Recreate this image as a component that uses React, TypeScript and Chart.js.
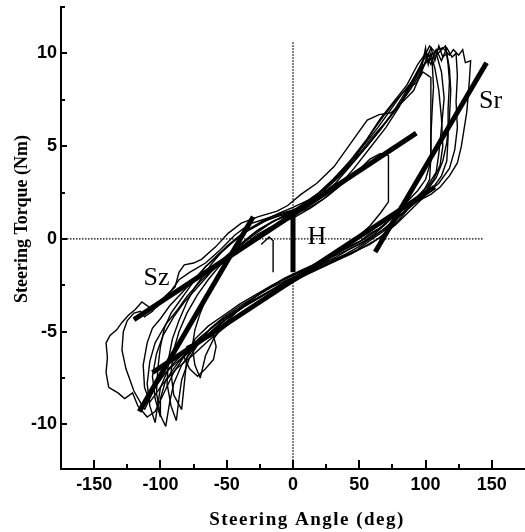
import React, { useEffect, useRef } from 'react';
import { Chart, registerables } from 'chart.js';
Chart.register(...registerables);

type P = [number, number];

// Hysteresis loops (steering angle deg, steering torque Nm)
const loop1: P[] = [
  [-139, -8.0], [-141, -7.2], [-140, -6.4], [-141, -5.6], [-138, -5.2], [-133, -4.9], [-129, -4.5],
  [-124, -4.1], [-119, -3.8], [-114, -3.4], [-108, -3.7], [-103, -3.7], [-96, -3.1], [-89, -2.6],
  [-86, -1.8], [-82, -1.4], [-75, -1.3], [-69, -1.1], [-58, -0.4], [-49, 0.3], [-39, 0.85],
  [-26, 1.2], [-12, 1.5], [-4, 1.8], [6, 2.4], [18, 3.0], [31, 3.9], [44, 5.2], [56, 6.4],
  [65, 6.7], [74, 6.8], [83, 7.4], [91, 8.0], [97, 9.0], [101, 9.8], [106, 10.0], [109, 10.2],
  [113, 10.3], [118, 9.9], [121, 10.2], [125, 9.9], [128, 10.2], [130, 9.5], [134, 9.6],
  [133, 8.5], [132, 7.6], [131, 6.8], [129, 5.9], [127, 5.0], [124, 4.1], [118, 3.4], [111, 2.8],
  [104, 2.4], [96, 2.1], [88, 1.8], [80, 1.5], [74, 1.1], [66, 0.6], [58, 0.3], [51, -0.1],
  [42, -0.4], [30, -0.9], [19, -1.5], [8, -2.0], [-5, -2.4], [-17, -2.8], [-30, -3.3],
  [-44, -3.9], [-56, -4.5], [-68, -5.2], [-80, -6.1], [-90, -7.2], [-98, -8.4], [-104, -9.3],
  [-110, -9.6], [-117, -9.0], [-121, -8.3], [-127, -8.6], [-132, -8.3], [-139, -8.0],
];

const loop2: P[] = [
  [-112, -9.2], [-120, -8.2], [-126, -7.0], [-129, -6.0], [-128, -5.0], [-125, -4.4], [-120, -4.0],
  [-115, -3.9], [-112, -4.2], [-106, -3.9], [-98, -3.2], [-92, -2.8], [-86, -2.2], [-78, -1.8],
  [-66, -1.3], [-55, -0.6], [-44, 0.2], [-33, 0.8], [-20, 1.1], [-8, 1.4], [2, 1.6], [14, 2.2],
  [26, 2.8], [38, 3.7], [50, 4.6], [60, 5.5], [70, 6.3], [80, 7.2], [88, 8.0], [95, 8.8],
  [100, 9.5], [104, 10.3], [107, 9.6], [110, 10.4], [113, 9.8], [116, 10.0], [118, 9.2],
  [119, 8.0], [118, 6.5], [116, 5.2], [113, 4.2], [108, 3.3], [102, 2.7], [94, 2.2], [86, 1.6],
  [76, 0.9], [68, 0.4], [58, -0.1], [48, -0.6], [36, -1.0], [24, -1.4], [12, -1.8], [0, -2.2],
  [-12, -2.6], [-24, -3.1], [-36, -3.6], [-48, -4.2], [-60, -4.9], [-72, -5.6], [-84, -6.4],
  [-96, -7.2], [-104, -8.0], [-112, -9.2],
];

const loop3: P[] = [
  [-96, -10.1], [-100, -9.5], [-103, -8.3], [-102, -7.0], [-100, -5.8], [-97, -4.8], [-92, -4.0],
  [-86, -3.4], [-80, -2.8], [-74, -2.2], [-66, -1.5], [-58, -1.0], [-50, -0.4], [-40, 0.2],
  [-30, 0.6], [-20, 1.0], [-10, 1.3], [0, 1.5], [10, 1.9], [22, 2.5], [34, 3.3], [46, 4.2],
  [58, 5.2], [68, 6.1], [78, 7.0], [86, 7.9], [92, 8.6], [97, 9.2], [100, 10.3], [102, 9.4],
  [104, 10.0], [107, 9.2], [110, 8.0], [112, 6.5], [113, 5.0], [111, 4.0], [106, 3.2], [100, 2.6],
  [92, 2.0], [84, 1.5], [76, 1.0], [68, 0.5], [60, 0.1], [50, -0.4], [40, -0.8], [28, -1.2],
  [16, -1.6], [4, -2.0], [-8, -2.4], [-20, -2.9], [-32, -3.4], [-44, -4.0], [-56, -4.6],
  [-66, -5.3], [-76, -6.0], [-84, -6.8], [-90, -7.8], [-93, -8.8], [-96, -10.1],
];

const loop4: P[] = [
  [-88, -9.8], [-92, -9.0], [-95, -7.8], [-94, -6.5], [-91, -5.4], [-86, -4.4], [-80, -3.4],
  [-74, -2.6], [-68, -2.0], [-62, -1.4], [-55, -0.8], [-46, -0.2], [-36, 0.4], [-24, 0.9],
  [-12, 1.2], [-2, 1.4], [8, 1.7], [20, 2.3], [32, 3.0], [44, 4.0], [56, 5.0], [66, 5.9],
  [76, 6.9], [84, 7.8], [92, 8.8], [98, 9.6], [102, 10.0], [105, 9.5], [106, 8.2], [105, 7.0],
  [104, 5.5], [104, 4.2], [100, 3.2], [94, 2.6], [86, 2.0], [78, 1.4], [70, 0.8], [62, 0.3],
  [54, -0.1], [44, -0.5], [32, -1.0], [20, -1.4], [8, -1.8], [-4, -2.2], [-16, -2.6], [-28, -3.1],
  [-40, -3.6], [-52, -4.2], [-62, -4.8], [-70, -5.5], [-78, -6.4], [-84, -7.6], [-86, -8.6],
  [-88, -9.8],
];

const loop5: P[] = [
  [-70, -7.5], [-74, -6.8], [-76, -5.8], [-74, -4.9], [-70, -4.0], [-65, -3.1], [-60, -2.4],
  [-54, -1.6], [-47, -1.0], [-38, -0.4], [-28, 0.2], [-18, 0.6], [-8, 0.9], [2, 1.2], [14, 1.7],
  [26, 2.3], [38, 3.0], [48, 3.6], [58, 4.3], [66, 4.6], [72, 4.5], [72, 3.2], [72, 2.0],
  [66, 1.4], [58, 0.7], [50, 0.2], [40, -0.3], [30, -0.8], [18, -1.3], [6, -1.7], [-6, -2.1],
  [-18, -2.6], [-30, -3.2], [-42, -3.9], [-52, -4.6], [-60, -5.4], [-66, -6.3], [-70, -7.5],
];

const loop6: P[] = [
  [-108, -8.8], [-112, -8.0], [-113, -6.8], [-110, -5.6], [-106, -4.8], [-100, -4.3], [-93, -3.6],
  [-85, -3.0], [-76, -2.3], [-66, -1.5], [-56, -0.8], [-46, -0.2], [-34, 0.5], [-22, 1.0],
  [-10, 1.4], [0, 1.7], [12, 2.1], [24, 2.7], [36, 3.5], [48, 4.5], [58, 5.6], [68, 6.6],
  [78, 7.5], [86, 8.1], [93, 8.4], [98, 9.0], [102, 8.8], [104, 8.7], [104, 7.2], [104, 5.8],
  [104, 4.4], [103, 3.2], [98, 2.5], [90, 1.9], [82, 1.2], [74, 0.6], [64, 0.0], [54, -0.4],
  [44, -0.8], [32, -1.2], [20, -1.6], [8, -2.0], [-4, -2.5], [-16, -3.0], [-28, -3.5], [-40, -4.1],
  [-52, -4.8], [-64, -5.5], [-76, -6.3], [-88, -7.0], [-98, -7.8], [-108, -8.8],
];

const loop7: P[] = [
  [-100, -9.6], [-104, -8.6], [-106, -7.4], [-103, -6.2], [-98, -5.2], [-90, -4.2], [-82, -3.4],
  [-72, -2.6], [-62, -1.8], [-52, -1.1], [-42, -0.5], [-30, 0.2], [-18, 0.8], [-6, 1.3], [6, 1.8],
  [18, 2.4], [30, 3.2], [42, 4.1], [54, 5.1], [64, 6.0], [74, 7.0], [82, 7.8], [90, 8.5],
  [96, 9.2], [102, 9.6], [108, 9.9], [112, 10.2], [115, 10.4], [117, 9.4], [118, 8.5], [117, 7.0],
  [117, 5.5], [116, 4.2], [112, 3.4], [106, 2.8], [98, 2.2], [88, 1.5], [78, 0.8], [68, 0.2],
  [58, -0.3], [46, -0.7], [34, -1.1], [22, -1.5], [10, -1.9], [-2, -2.3], [-14, -2.7], [-26, -3.2],
  [-38, -3.7], [-50, -4.3], [-62, -5.0], [-74, -5.8], [-86, -6.6], [-96, -7.6], [-100, -8.6],
  [-100, -9.6],
];

const loop8: P[] = [
  [-60, -6.5], [-66, -7.0], [-72, -7.4], [-78, -7.0], [-82, -6.4], [-80, -5.8], [-74, -5.6],
  [-66, -5.4], [-60, -5.2], [-58, -5.8], [-60, -6.5],
];

const loop9: P[] = [
  [-84, -9.2], [-90, -8.4], [-92, -7.2], [-90, -6.0], [-86, -5.0], [-80, -4.0], [-72, -3.0],
  [-64, -2.2], [-56, -1.5], [-48, -0.9], [-38, -0.2], [-26, 0.5], [-14, 1.0], [-2, 1.3], [10, 1.6],
  [22, 2.1], [34, 2.8], [46, 3.8], [58, 4.9], [70, 6.0], [80, 7.1], [88, 8.2], [94, 9.0],
  [99, 9.8], [103, 10.4], [108, 10.0], [112, 9.0], [114, 7.6], [112, 6.0], [110, 4.6], [108, 3.6],
  [102, 2.9], [94, 2.3], [84, 1.7], [74, 1.1], [64, 0.5], [54, 0.0], [44, -0.4], [32, -0.8],
  [20, -1.3], [8, -1.7], [-4, -2.1], [-16, -2.5], [-28, -3.0], [-40, -3.5], [-52, -4.1],
  [-64, -4.7], [-74, -5.4], [-80, -6.4], [-82, -7.8], [-84, -9.2],
];

const loop10: P[] = [
  [-104, -9.9], [-108, -9.0], [-110, -7.8], [-108, -6.6], [-104, -5.6], [-96, -4.6], [-88, -3.9],
  [-80, -3.1], [-70, -2.3], [-60, -1.6], [-50, -0.9], [-40, -0.3], [-28, 0.4], [-16, 0.9],
  [-4, 1.3], [8, 1.8], [20, 2.5], [32, 3.3], [44, 4.3], [56, 5.4], [66, 6.5], [76, 7.4],
  [86, 8.3], [94, 9.4], [100, 10.0], [104, 9.4], [108, 10.2], [112, 9.6], [116, 10.3], [120, 9.8],
  [123, 10.0], [124, 8.8], [123, 7.4], [124, 6.0], [122, 4.8], [118, 3.8], [110, 3.0], [100, 2.4],
  [90, 1.8], [80, 1.2], [70, 0.6], [60, 0.1], [50, -0.3], [38, -0.7], [26, -1.1], [14, -1.5],
  [2, -1.9], [-10, -2.3], [-22, -2.8], [-34, -3.4], [-46, -4.0], [-58, -4.6], [-70, -5.3],
  [-82, -6.1], [-94, -7.0], [-100, -8.0], [-104, -9.9],
];

const hook: P[] = [[-24, -0.3], [-18, 0.1], [-15, -0.1], [-15, -1.0], [-15, -1.8]];

const loops: P[][] = [loop1, loop2, loop3, loop4, loop5, loop6, loop7, loop8, loop9, loop10, hook];

// Fitted stiffness lines and hysteresis marker
const szLine: P[] = [[-120, -4.35], [93, 5.7]];
const lowerLine: P[] = [[-106, -7.2], [107, 2.8]];
const steepLine: P[] = [[-116, -9.3], [-30, 1.2]];
const srLine: P[] = [[62, -0.7], [146, 9.5]];
const hLine: P[] = [[0, 1.55], [0, -1.8]];

// Dotted reference axes
const zeroH: P[] = [[-175, 0], [143, 0]];
const zeroV: P[] = [[0, 10.6], [0, -12.4]];

// Ticks
const xTicks = [-150, -100, -50, 0, 50, 100, 150];
const xMinor = [-125, -75, -25, 25, 75, 125];
const yTicks = [-10, -5, 0, 5, 10];
const yMinor = [-7.5, -2.5, 2.5, 7.5, 12.5];

// Annotations
const noteText = ['Sz', 'Sr', 'H'];
const noteX = [-103, 149, 18];
const noteY = [-2.1, 7.4, 0.1];

const xTitle = 'Steering Angle (deg)';
const yTitle = 'Steering Torque (Nm)';

const toXY = (pts: P[]) => pts.map(([x, y]) => ({ x, y }));

const decor = {
  id: 'decor',
  afterDraw(chart: any) {
    const ctx = chart.ctx as CanvasRenderingContext2D;
    const xs = chart.scales.x;
    const ys = chart.scales.y;
    const ca = chart.chartArea;
    ctx.save();
    ctx.strokeStyle = '#000';
    ctx.lineWidth = 2;
    ctx.beginPath();
    xTicks.forEach((v) => {
      const px = Math.round(xs.getPixelForValue(v));
      ctx.moveTo(px, ca.bottom);
      ctx.lineTo(px, ca.bottom - 9);
    });
    xMinor.forEach((v) => {
      const px = Math.round(xs.getPixelForValue(v));
      ctx.moveTo(px, ca.bottom);
      ctx.lineTo(px, ca.bottom - 5);
    });
    yTicks.forEach((v) => {
      const py = Math.round(ys.getPixelForValue(v));
      ctx.moveTo(ca.left, py);
      ctx.lineTo(ca.left + 6, py);
    });
    yMinor.forEach((v) => {
      const py = Math.round(ys.getPixelForValue(v));
      ctx.moveTo(ca.left, py);
      ctx.lineTo(ca.left + 4, py);
    });
    ctx.stroke();

    ctx.fillStyle = '#000';
    // axis titles
    ctx.font = 'bold 19px "Liberation Serif", serif';
    (ctx as any).letterSpacing = '1.5px';
    ctx.textAlign = 'center';
    ctx.textBaseline = 'alphabetic';
    ctx.fillText(xTitle, 307, 525);
    (ctx as any).letterSpacing = '0px';
    ctx.save();
    ctx.translate(27, 219);
    ctx.rotate(-Math.PI / 2);
    ctx.font = 'bold 18px "Liberation Serif", serif';
    ctx.fillText(yTitle, 0, 0);
    ctx.restore();

    // annotations
    ctx.font = '26px "Liberation Serif", serif';
    ctx.textBaseline = 'middle';
    noteText.forEach((t, i) => {
      ctx.fillText(t, xs.getPixelForValue(noteX[i]), ys.getPixelForValue(noteY[i]));
    });
    ctx.restore();
  },
};

export default function App() {
  const ref = useRef<HTMLCanvasElement>(null);
  useEffect(() => {
    if (!ref.current) return;
    const thick = (data: P[]) => ({
      data: toXY(data),
      showLine: true,
      borderColor: '#000',
      borderWidth: 5,
      pointRadius: 0,
      tension: 0,
      borderCapStyle: 'butt' as const,
    });
    const dotted = (data: P[]) => ({
      data: toXY(data),
      showLine: true,
      borderColor: '#000',
      borderWidth: 1.3,
      borderDash: [1.5, 1.5],
      pointRadius: 0,
      tension: 0,
    });
    const datasets: any[] = [
      thick(szLine),
      thick(lowerLine),
      thick(steepLine),
      thick(srLine),
      thick(hLine),
      ...loops.map((l) => ({
        data: toXY(l),
        showLine: true,
        borderColor: '#000',
        borderWidth: 1.4,
        pointRadius: 0,
        tension: 0,
      })),
      dotted(zeroH),
      dotted(zeroV),
    ];
    const tickFont = { family: '"Liberation Sans", Arial, sans-serif', size: 18, weight: 'bold' as const };
    const chart = new Chart(ref.current, {
      type: 'scatter',
      data: { datasets },
      options: {
        animation: false,
        responsive: false,
        devicePixelRatio: 1,
        layout: { padding: { top: 7, left: 0, right: 0, bottom: 0 } },
        plugins: { legend: { display: false }, tooltip: { enabled: false } },
        scales: {
          x: {
            type: 'linear',
            min: -175,
            max: 175,
            grid: { display: false, drawTicks: false },
            border: { display: true, color: '#000', width: 2 },
            ticks: { font: tickFont, color: '#000', padding: 5, maxRotation: 0 },
            afterBuildTicks: (s: any) => {
              s.ticks = xTicks.map((v) => ({ value: v }));
            },
            afterFit: (s: any) => {
              s.height = 63;
              s.paddingLeft = 0;
              s.paddingRight = 0;
            },
          },
          y: {
            type: 'linear',
            min: -12.4,
            max: 12.5,
            grid: { display: false, drawTicks: false },
            border: { display: true, color: '#000', width: 2 },
            ticks: { font: tickFont, color: '#000', padding: 4 },
            afterBuildTicks: (s: any) => {
              s.ticks = yTicks.map((v) => ({ value: v }));
            },
            afterFit: (s: any) => {
              s.width = 61;
              s.paddingTop = 0;
              s.paddingBottom = 0;
            },
          },
        },
      },
      plugins: [decor],
    });
    return () => chart.destroy();
  }, []);
  return (
    <div style={{ position: 'fixed', left: 0, top: 0, width: 525, height: 532, background: '#fff' }}>
      <canvas ref={ref} width={525} height={532} />
    </div>
  );
}
